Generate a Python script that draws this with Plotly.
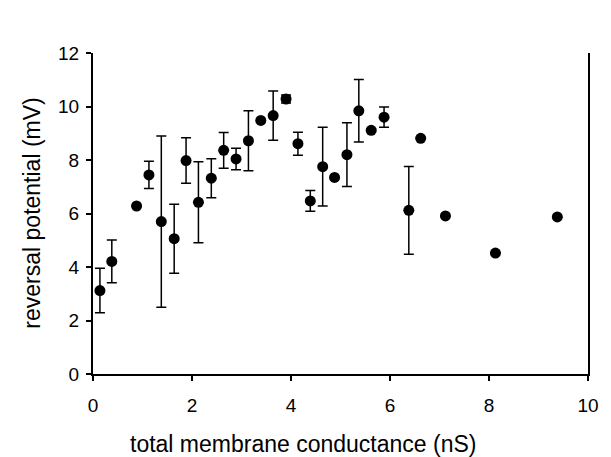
import plotly.graph_objects as go

conductance = [0.14, 0.38, 0.88, 1.13, 1.38, 1.64, 1.88, 2.13, 2.39, 2.64, 2.89, 3.14,
               3.39, 3.64, 3.90, 4.14, 4.39, 4.64, 4.88, 5.13, 5.37, 5.62, 5.88, 6.38,
               6.62, 7.12, 8.13, 9.38]
reversal = [3.12, 4.21, 6.28, 7.44, 5.70, 5.06, 7.98, 6.42, 7.32, 8.36, 8.04, 8.72,
            9.48, 9.66, 10.28, 8.61, 6.47, 7.75, 7.35, 8.20, 9.84, 9.11, 9.60, 6.12,
            8.81, 5.91, 4.52, 5.87]
error = [0.83, 0.80, 0.0, 0.51, 3.20, 1.29, 0.85, 1.51, 0.73, 0.67, 0.40, 1.12,
         0.0, 0.92, 0.15, 0.43, 0.39, 1.47, 0.0, 1.19, 1.17, 0.06, 0.38, 1.64,
         0.0, 0.0, 0.0, 0.0]

x_title = "total membrane conductance (nS)"
y_title = "reversal potential (mV)"

font = "Liberation Sans, Arial, sans-serif"

fig = go.Figure(go.Scatter(
    x=conductance, y=reversal, mode="markers",
    marker=dict(color="black", size=11),
    error_y=dict(type="data", array=error, visible=True, color="black",
                 thickness=1.5, width=5),
    showlegend=False,
))

fig.update_layout(
    width=611, height=457,
    margin=dict(l=93, r=15, t=53, b=83),
    paper_bgcolor="white", plot_bgcolor="white",
    font=dict(family=font, color="black", size=19),
    annotations=[
        dict(text=x_title, xref="paper", yref="paper", x=-0.076, y=-0.218,
             xanchor="center", yanchor="middle", showarrow=False,
             font=dict(size=23, family=font, color="black")),
        dict(text=y_title, xref="paper", yref="paper", x=-0.125, y=0.5,
             xanchor="center", yanchor="middle", textangle=-90, showarrow=False,
             font=dict(size=23, family=font, color="black")),
    ],
)
# x title annotation centre at pixel ~306 -> paper (306-93)/503
fig.layout.annotations[0].x = (306 - 93) / 503

fig.update_xaxes(
    range=[0, 10], tickvals=[0, 2, 4, 6, 8, 10],
    showgrid=False, zeroline=False,
    showline=True, linecolor="black", linewidth=2,
    ticks="outside", ticklen=5, tickcolor="black", tickwidth=1.5,
    ticklabelstandoff=8,
    tickfont=dict(size=19, family=font),
)
fig.update_yaxes(
    range=[0, 12], tickvals=[0, 2, 4, 6, 8, 10, 12],
    showgrid=False, zeroline=False,
    showline=True, linecolor="black", linewidth=2, mirror=True,
    ticks="outside", ticklen=5, tickcolor="black", tickwidth=1.5,
    ticklabelstandoff=3,
    tickfont=dict(size=19, family=font),
)

fig.write_html("out.html")
